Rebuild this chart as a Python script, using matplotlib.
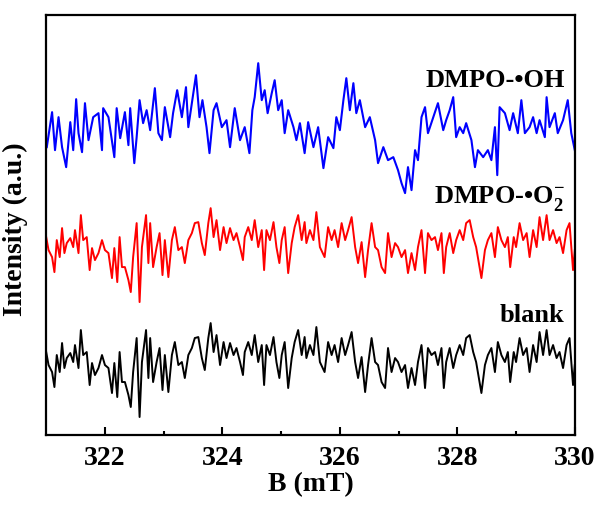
import numpy as np
import matplotlib
matplotlib.use('Agg')
import matplotlib.pyplot as plt

# EPR spectra (B in mT, stacked intensity in a.u.)
oh_B = [321.01, 321.10, 321.15, 321.21, 321.27, 321.34, 321.41, 321.46, 321.51, 321.55,
        321.61, 321.66, 321.72, 321.80, 321.89, 321.95, 321.97, 322.06, 322.16, 322.20,
        322.26, 322.34, 322.40, 322.43, 322.50, 322.54, 322.59, 322.65, 322.71, 322.77,
        322.85, 322.91, 322.97, 323.02, 323.11, 323.16, 323.23, 323.31, 323.38, 323.42,
        323.48, 323.55, 323.61, 323.66, 323.73, 323.78, 323.85, 323.90, 323.99, 324.07,
        324.13, 324.21, 324.30, 324.38, 324.46, 324.51, 324.55, 324.61, 324.67, 324.72,
        324.77, 324.84, 324.89, 324.95, 325.01, 325.06, 325.12, 325.21, 325.26, 325.32,
        325.40,
        325.46, 325.55, 325.63, 325.72, 325.80, 325.89, 325.94, 326.00, 326.06, 326.11,
        326.17, 326.23, 326.28, 326.34, 326.43, 326.51, 326.60, 326.65, 326.74, 326.82,
        326.91, 326.99, 327.05, 327.11, 327.16, 327.22, 327.28, 327.33, 327.39, 327.45,
        327.50, 327.59, 327.67, 327.76, 327.81, 327.87, 327.93, 327.98, 328.04, 328.10,
        328.15, 328.24, 328.30, 328.35, 328.44, 328.52, 328.58, 328.64, 328.68, 328.72,
        328.81, 328.89, 328.95, 329.03, 329.09, 329.15, 329.23, 329.29, 329.35, 329.40,
        329.49, 329.52, 329.57, 329.66, 329.71, 329.80, 329.88, 329.94, 330.00]
oh_I = [28.8, 32.3, 28.5, 31.8, 28.8, 26.8, 31.3, 28.5, 33.6, 30.2,
        28.3, 33.2, 29.5, 31.8, 32.2, 28.5, 32.7, 31.8, 27.8, 32.7,
        29.7, 32.3, 29.0, 32.7, 27.2, 29.8, 33.5, 31.2, 32.5, 30.5,
        34.7, 30.2, 29.5, 32.8, 29.8, 32.2, 34.5, 31.8, 34.8, 30.8,
        33.2, 36.0, 31.8, 33.5, 30.8, 28.2, 32.5, 33.2, 30.8, 31.5,
        28.8, 32.7, 29.5, 30.8, 28.2, 32.5, 33.8, 37.2, 33.5, 34.5,
        32.2, 34.2, 35.5, 32.5, 33.5, 30.2, 32.5, 30.8, 29.5, 31.2,
        28.2,
        31.3, 28.8, 30.8, 26.7, 29.8, 28.7, 31.8, 30.5, 33.5, 35.7,
        32.5, 35.2, 32.2, 33.5, 30.8, 31.8, 29.5, 27.2, 28.8, 27.5,
        27.8, 26.5, 25.2, 24.2, 26.8, 24.5, 28.5, 27.5, 31.8, 32.8,
        30.2, 31.8, 33.2, 30.5, 31.5, 32.5, 33.8, 29.8, 30.8, 30.2,
        31.2, 29.5, 26.8, 28.5, 27.8, 28.5, 27.5, 30.8, 26.0, 32.8,
        32.2, 30.5, 32.2, 30.2, 33.5, 30.2, 30.8, 31.8, 30.2, 31.5,
        29.8, 33.8, 30.8, 32.2, 30.2, 31.5, 33.5, 30.2, 28.5]

o2_B = [321.00, 321.04, 321.10, 321.14, 321.18, 321.23, 321.27, 321.31, 321.35, 321.41,
        321.46, 321.49, 321.55, 321.59, 321.63, 321.69, 321.74, 321.78, 321.83, 321.89,
        321.95, 322.00, 322.06, 322.12, 322.16, 322.21, 322.25, 322.29, 322.34, 322.40,
        322.44, 322.48, 322.54, 322.59, 322.63, 322.70, 322.74, 322.77, 322.82, 322.88,
        322.93, 322.98, 323.02, 323.08, 323.14, 323.19, 323.25, 323.31, 323.36, 323.42,
        323.48, 323.53, 323.59, 323.65, 323.70, 323.76, 323.80, 323.85, 323.90, 323.96,
        324.02, 324.07, 324.13, 324.19, 324.24, 324.30, 324.35, 324.38, 324.44, 324.50,
        324.55, 324.61, 324.67, 324.71, 324.75, 324.81, 324.87, 324.92, 324.97, 325.01,
        325.06, 325.12, 325.18, 325.23, 325.29, 325.35, 325.40,
        325.43, 325.49, 325.55, 325.60, 325.66, 325.74, 325.80, 325.86, 325.91, 325.97,
        326.03, 326.09, 326.14, 326.20, 326.26, 326.31, 326.37, 326.43, 326.48, 326.54,
        326.60, 326.65, 326.71, 326.77, 326.82, 326.88, 326.94, 326.99, 327.05, 327.11,
        327.16, 327.22, 327.28, 327.33, 327.39, 327.45, 327.50, 327.56, 327.62, 327.67,
        327.73, 327.77, 327.81, 327.87, 327.93, 327.98, 328.04, 328.10, 328.15, 328.21,
        328.27, 328.32, 328.41, 328.47, 328.52, 328.58, 328.64, 328.69, 328.75, 328.81,
        328.86, 328.90, 328.96, 329.00, 329.06, 329.12, 329.18, 329.23, 329.29, 329.35,
        329.40, 329.46, 329.52, 329.57, 329.63, 329.69, 329.74, 329.80, 329.86, 329.91,
        329.97, 330.00]
o2_I = [19.8, 18.5, 17.8, 16.3, 19.5, 17.8, 20.7, 18.2, 19.2, 19.7,
        18.8, 20.5, 18.2, 22.0, 19.5, 19.8, 16.5, 18.7, 17.5, 18.2,
        19.5, 18.5, 18.2, 15.7, 18.7, 15.3, 19.8, 16.8, 16.8, 15.5,
        14.3, 17.8, 21.2, 13.3, 18.8, 22.0, 17.2, 21.2, 16.8, 18.8,
        20.2, 16.0, 19.5, 15.8, 19.5, 20.8, 18.5, 18.8, 17.2, 19.5,
        20.2, 21.2, 21.3, 19.2, 18.0, 21.2, 22.7, 19.8, 21.5, 18.5,
        20.8, 19.2, 20.7, 19.5, 20.2, 18.8, 17.5, 19.8, 20.8, 19.5,
        21.5, 18.8, 20.5, 16.5, 20.5, 19.5, 21.3, 18.8, 17.2, 19.5,
        20.8, 16.2, 19.2, 20.8, 22.0, 19.5, 21.3,
        19.2, 20.5, 19.5, 22.3, 18.8, 17.8, 20.8, 19.5, 20.5, 18.8,
        21.2, 19.5, 20.5, 21.8, 18.8, 17.2, 19.3, 15.8, 18.5, 21.2,
        18.8, 18.5, 16.8, 16.2, 20.2, 17.8, 19.2, 18.8, 17.8, 18.5,
        16.2, 18.2, 16.5, 18.8, 20.5, 16.2, 20.2, 19.5, 19.8, 18.5,
        20.2, 16.2, 18.8, 20.2, 18.2, 19.5, 20.5, 19.5, 21.2, 21.5,
        19.8, 18.8, 15.7, 18.5, 19.5, 20.2, 17.8, 20.8, 19.5, 18.8,
        19.8, 16.8, 19.8, 18.8, 21.2, 19.5, 20.2, 17.8, 20.5, 18.8,
        21.8, 19.5, 22.0, 19.5, 20.5, 19.2, 19.8, 18.2, 20.5, 21.2,
        16.5, 18.5]

# the blank trace shows the same noise pattern as the O2 one, 11.5 a.u. lower
blank_B = o2_B
blank_I = [v - 11.5 for v in o2_I]

labels = ['DMPO-\u2022OH', 'DMPO-\u2022O$_\\mathbf{2}^{\\mathbf{-}}$', 'blank']

plt.rcParams['font.family'] = ['Liberation Serif', 'DejaVu Serif']
plt.rcParams['font.weight'] = 'bold'
plt.rcParams['mathtext.fontset'] = 'custom'
plt.rcParams['mathtext.rm'] = 'Liberation Serif:bold'
plt.rcParams['mathtext.bf'] = 'Liberation Serif:bold'

fig = plt.figure(figsize=(6, 5.07), dpi=100)
ax = fig.add_axes([0.077, 0.142, 0.881, 0.828])

ax.plot(oh_B, oh_I, color='#0000ff', lw=1.5)
ax.plot(o2_B, o2_I, color='#ff0000', lw=1.4)
ax.plot(blank_B, blank_I, color='black', lw=1.4)

ax.set_xlim(321, 330)
ax.set_ylim(0, 42)
ax.set_xticks([322, 324, 326, 328, 330])
ax.set_xticks([323, 325, 327, 329], minor=True)
ax.set_yticks([])
ax.tick_params(axis='x', which='major', direction='in', length=6, width=1.5,
               labelsize=20, pad=8)
ax.tick_params(axis='x', which='minor', direction='in', length=3, width=1.5)
for s in ax.spines.values():
    s.set_linewidth(1.6)

ax.set_xlabel('B (mT)', fontsize=20, fontweight='bold', labelpad=1)
ax.set_ylabel('Intensity (a.u.)', fontsize=20, fontweight='bold')
ax.yaxis.set_label_coords(-0.035, 0.49)

ax.text(0.981, 0.829, labels[0], transform=ax.transAxes, ha='right',
        va='baseline', fontsize=19, fontweight='bold')
ax.text(0.981, 0.552, labels[1], transform=ax.transAxes, ha='right',
        va='baseline', fontsize=19, fontweight='bold')
ax.text(0.981, 0.269, labels[2], transform=ax.transAxes, ha='right',
        va='baseline', fontsize=19, fontweight='bold')

fig.savefig('out.png', dpi=100)
